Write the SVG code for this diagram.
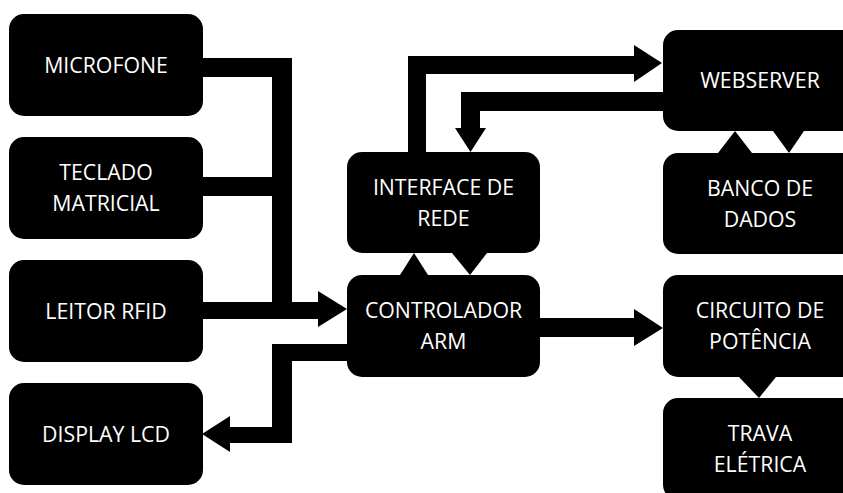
<svg xmlns="http://www.w3.org/2000/svg" width="843" height="493" viewBox="0 0 843 493">
  <style>
    .box { fill: #000; }
    .lbl { fill: #fff; font-family: "Open Sans", "Liberation Sans", sans-serif; font-size: 21.3px; text-anchor: middle; }
    .wire { fill: #000; stroke: none; }
  </style>
  <rect width="843" height="493" fill="#fff"/>

  <!-- connectors -->
  <g id="connectors">
    <!-- inputs merge into controller -->
    <path class="wire" d="M203,58 H292 V302 H318 V291 L347,309 L318,327 V319 H203 V302 H272 V196 H203 V177 H272 V77 H203 Z"/>
    <!-- controller to display -->
    <path class="wire" d="M347,344 H272 V427 H230 V416 L202,434 L230,452 V443 H292 V361 H347 Z"/>
    <!-- network interface to webserver -->
    <path class="wire" d="M408,152 V56 H634 V45 L662,63 L634,82 V74 H426 V152 Z"/>
    <!-- webserver to network interface -->
    <path class="wire" d="M663,92 H461 V128 H455 L470.5,152 L486,128 H480 V111 H663 Z"/>
    <!-- controller <-> network interface -->
    <polygon class="wire" points="400,275 428,275 414,253"/>
    <polygon class="wire" points="452,253 487,253 470,275"/>
    <!-- webserver <-> database -->
    <polygon class="wire" points="718,153 752,153 735,131"/>
    <polygon class="wire" points="773,131 804,131 789,153"/>
    <!-- controller to power circuit -->
    <path class="wire" d="M540,318 H634 V309 L663,328 L634,346 V337 H540 Z"/>
    <!-- power circuit to lock -->
    <polygon class="wire" points="739,377 776,377 759,398"/>
  </g>

  <g id="microfone">
    <rect class="box" x="9" y="14" width="194" height="102" rx="15"/>
    <text class="lbl" x="106" y="72.5">MICROFONE</text>
  </g>
  <g id="teclado">
    <rect class="box" x="9" y="137" width="194" height="102" rx="15"/>
    <text class="lbl" x="106" y="180">TECLADO</text>
    <text class="lbl" x="106" y="211">MATRICIAL</text>
  </g>
  <g id="leitor-rfid">
    <rect class="box" x="9" y="260" width="194" height="102" rx="15"/>
    <text class="lbl" x="106" y="318.5">LEITOR RFID</text>
  </g>
  <g id="display-lcd">
    <rect class="box" x="9" y="383" width="194" height="102" rx="15"/>
    <text class="lbl" x="106" y="441.5">DISPLAY LCD</text>
  </g>
  <g id="interface-rede">
    <rect class="box" x="347" y="152" width="193" height="101" rx="15"/>
    <text class="lbl" x="443.5" y="195">INTERFACE DE</text>
    <text class="lbl" x="443.5" y="226">REDE</text>
  </g>
  <g id="controlador-arm">
    <rect class="box" x="347" y="275" width="193" height="102" rx="15"/>
    <text class="lbl" x="443.5" y="318">CONTROLADOR</text>
    <text class="lbl" x="443.5" y="349">ARM</text>
  </g>
  <g id="webserver">
    <rect class="box" x="663" y="30" width="194" height="101" rx="15"/>
    <text class="lbl" x="760" y="88">WEBSERVER</text>
  </g>
  <g id="banco-dados">
    <rect class="box" x="663" y="153" width="194" height="101" rx="15"/>
    <text class="lbl" x="760" y="196">BANCO DE</text>
    <text class="lbl" x="760" y="227">DADOS</text>
  </g>
  <g id="circuito-potencia">
    <rect class="box" x="663" y="275" width="194" height="102" rx="15"/>
    <text class="lbl" x="760" y="318">CIRCUITO DE</text>
    <text class="lbl" x="760" y="349">POTÊNCIA</text>
  </g>
  <g id="trava-eletrica">
    <rect class="box" x="663" y="398" width="194" height="102" rx="15"/>
    <text class="lbl" x="760" y="441">TRAVA</text>
    <text class="lbl" x="760" y="472">ELÉTRICA</text>
  </g>
</svg>
